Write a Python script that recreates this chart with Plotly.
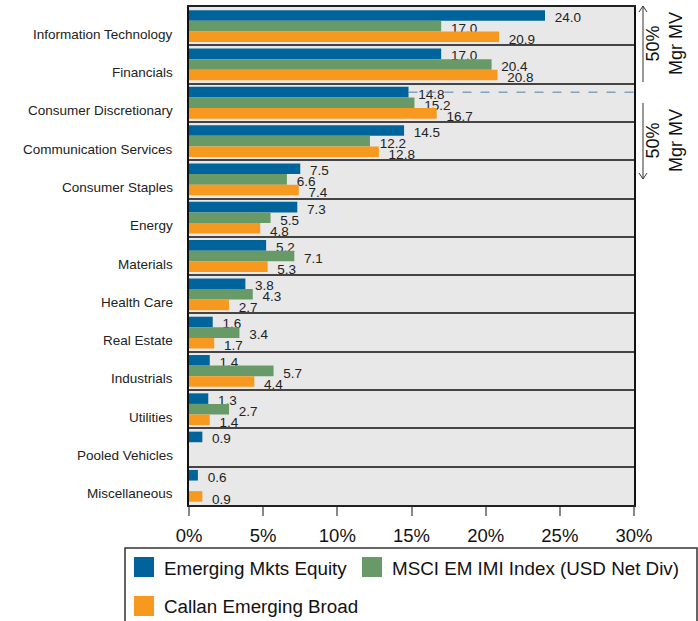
import plotly.graph_objects as go

# Sector weights (% of market value)
categories = [
    "Information Technology", "Financials", "Consumer Discretionary",
    "Communication Services", "Consumer Staples", "Energy", "Materials",
    "Health Care", "Real Estate", "Industrials", "Utilities",
    "Pooled Vehicles", "Miscellaneous",
]
emerging_mkts_equity = [24.0, 17.0, 14.8, 14.5, 7.5, 7.3, 5.2, 3.8, 1.6, 1.4, 1.3, 0.9, 0.6]
msci_em_imi = [17.0, 20.4, 15.2, 12.2, 6.6, 5.5, 7.1, 4.3, 3.4, 5.7, 2.7, None, None]
callan_emerging_broad = [20.9, 20.8, 16.7, 12.8, 7.4, 4.8, 5.3, 2.7, 1.7, 4.4, 1.4, None, 0.9]

series_names = [
    "Emerging Mkts Equity",
    "MSCI EM IMI Index (USD Net Div)",
    "Callan Emerging Broad",
]
series_values = [emerging_mkts_equity, msci_em_imi, callan_emerging_broad]
series_colors = ["#00649c", "#689a68", "#f7981f"]

x_ticks = [0, 5, 10, 15, 20, 25, 30]
x_tick_labels = ["0%", "5%", "10%", "15%", "20%", "25%", "30%"]

FONT = "Liberation Sans, Arial, sans-serif"
W, H = 698, 621
L, R, T, B = 189, 634, 7, 505
BARGAP = 0.17
N = len(categories)
BAND_PX = (B - T) / N
bar_w = (1 - BARGAP) / 3
y_range = [N - 0.5, -0.5]
pos = list(range(N))


def px(xp):
    return (xp - L) / (R - L)


def py(yp):
    return (B - yp) / (B - T)


fig = go.Figure()

# Each series sits on its own overlaid y axis so that a later series'
# bars are painted over the value labels of the series above it.
y_axes = ["y", "y2", "y3"]
label_px = [-7.5, 3.5, 14.5]  # label offset from band centre, px (down +)
for k, (name, vals, col, ya) in enumerate(
        zip(series_names, series_values, series_colors, y_axes)):
    fig.add_trace(go.Bar(
        name=name, y=pos, x=vals, orientation="h", yaxis=ya,
        width=bar_w, offset=(k - 1.5) * bar_w,
        marker=dict(color=col, line=dict(width=0)),
        customdata=categories, hovertemplate="%{customdata}: %{x:.1f}%",
        showlegend=False,
    ))
    lx, ly, lt = [], [], []
    for i, v in enumerate(vals):
        if v is None:
            continue
        lx.append(v)
        ly.append(i + label_px[k] / BAND_PX)
        lt.append(f"{v:.1f}")
    fig.add_trace(go.Scatter(
        x=lx, y=ly, text=lt, yaxis=ya, mode="markers+text",
        marker=dict(size=14, color="rgba(0,0,0,0)"),
        textposition="middle right",
        textfont=dict(family=FONT, size=13.5, color="#222"),
        hoverinfo="skip", showlegend=False,
    ))

annotations = []
shapes = []

# category labels
for i, cat in enumerate(categories):
    annotations.append(dict(
        x=0, y=i, xref="paper", yref="y", text=cat, showarrow=False,
        xanchor="right", xshift=-14, yshift=-8,
        font=dict(family=FONT, size=13.5, color="#222"),
    ))

# dashed split line at the top bar of Consumer Discretionary
idx = categories.index("Consumer Discretionary")
shapes.append(dict(
    type="line", xref="x", yref="y",
    x0=emerging_mkts_equity[idx], x1=x_ticks[-1],
    y0=idx - bar_w, y1=idx - bar_w,
    line=dict(color="#4f7fa6", width=1, dash="dash"),
))

# 50% market value brackets on the right
arrow_col = "#333"
ax = 643
for y_top, y_bot, tip_up in [(6, 82, True), (103, 179, False)]:
    shapes.append(dict(type="line", xref="paper", yref="paper",
                       x0=px(ax), x1=px(ax), y0=py(y_top), y1=py(y_bot),
                       line=dict(color=arrow_col, width=1)))
    tip = y_top if tip_up else y_bot
    arm = tip + 6 if tip_up else tip - 6
    path = (f"M {px(ax - 4)} {py(arm)} L {px(ax)} {py(tip)} "
            f"L {px(ax + 4)} {py(arm)}")
    shapes.append(dict(type="path", xref="paper", yref="paper", path=path,
                       line=dict(color=arrow_col, width=1)))
    annotations.append(dict(
        x=px(664), y=py((y_top + y_bot) / 2), xref="paper", yref="paper",
        text="50%<br>Mgr MV", textangle=-90, showarrow=False,
        xanchor="center", yanchor="middle",
        font=dict(family=FONT, size=18, color="#111"),
    ))

# legend box
shapes.append(dict(type="rect", xref="paper", yref="paper",
                   x0=px(125), x1=px(697), y0=py(548), y1=py(640),
                   line=dict(color="#333", width=1.5), fillcolor="white"))
legend_pos = [(134, 557), (362, 557), (134, 596)]
for (lx0, ly0), name, col in zip(legend_pos, series_names, series_colors):
    shapes.append(dict(type="rect", xref="paper", yref="paper",
                       x0=px(lx0), x1=px(lx0 + 20), y0=py(ly0), y1=py(ly0 + 20),
                       line=dict(width=0), fillcolor=col))
    annotations.append(dict(
        x=px(lx0 + 28), y=py(ly0 + 11), xref="paper", yref="paper",
        text=name, showarrow=False, xanchor="left", yanchor="middle",
        font=dict(family=FONT, size=18.8, color="#111"),
    ))

fig.update_layout(
    width=W, height=H,
    margin=dict(l=L, r=W - R, t=T, b=H - B, pad=0, autoexpand=False),
    paper_bgcolor="white", plot_bgcolor="#e8e8e8",
    barmode="overlay",
    font=dict(family=FONT, color="#222"),
    annotations=annotations, shapes=shapes,
    showlegend=False,
    xaxis=dict(
        range=[x_ticks[0], x_ticks[-1]], tickmode="array",
        tickvals=x_ticks, ticktext=x_tick_labels,
        ticks="outside", ticklen=9, tickwidth=1.5, tickcolor="#888",
        ticklabelstandoff=4,
        showgrid=False, zeroline=False,
        showline=True, linecolor="#222", linewidth=2, mirror=True,
        tickfont=dict(family=FONT, size=18.5, color="#111"),
        fixedrange=True,
    ),
    yaxis=dict(
        range=y_range, tickmode="array",
        tickvals=[i - 0.5 for i in range(N + 1)],
        showgrid=True, gridcolor="#444", gridwidth=1.5,
        showticklabels=False, ticks="",
        showline=True, linecolor="#111", linewidth=2, mirror=True,
        zeroline=False, fixedrange=True,
    ),
    yaxis2=dict(range=y_range, overlaying="y", visible=False, fixedrange=True),
    yaxis3=dict(range=y_range, overlaying="y", visible=False, fixedrange=True),
)

fig.write_html("out.html")
